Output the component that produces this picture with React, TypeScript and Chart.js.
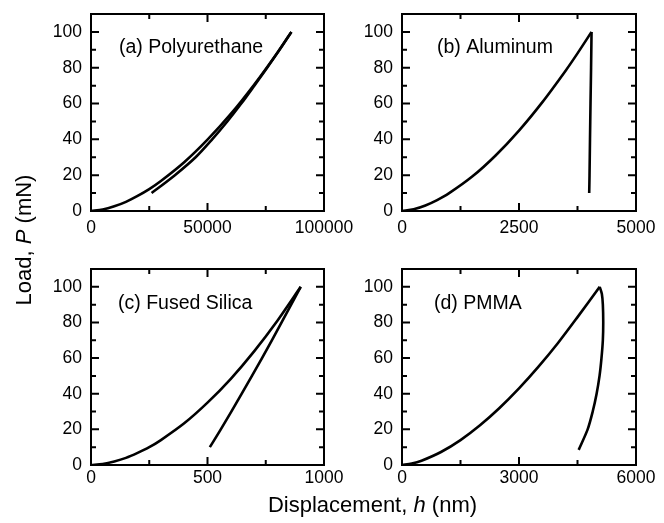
import React, { useEffect, useRef } from "react";
import { Chart, registerables } from "chart.js";
Chart.register(...registerables);

const FONT = "'Liberation Sans', Arial, Helvetica, sans-serif";

// (a) Polyurethane
const polyLoadH = [0, 5000, 10000, 15000, 20000, 25000, 30000, 40000, 50000, 60000, 70000, 80000, 86000];
const polyLoadP = [0, 0.8, 2.6, 5.1, 8.4, 12.2, 16.7, 27.2, 39.8, 54.2, 70.5, 88.4, 100];
const polyUnloadH = [86000, 80900, 75600, 70100, 64500, 58500, 52000, 44900, 36000, 26000];
const polyUnloadP = [100, 90, 80, 70, 60, 50, 40, 30, 20, 10];

// (b) Aluminum
const alLoadH = [0, 250, 500, 750, 1000, 1500, 2000, 2500, 3000, 3500, 3750, 4050];
const alLoadP = [0, 1.0, 3.1, 6.1, 9.8, 19.2, 31.0, 44.9, 60.8, 78.5, 88.0, 100];
const alUnloadH = [4050, 4040, 4028, 4017, 4007, 4000];
const alUnloadP = [100, 80, 60, 40, 20, 10];

// (c) Fused Silica
const fsLoadH = [0, 50, 100, 150, 200, 250, 300, 400, 500, 600, 700, 800, 900];
const fsLoadP = [0, 0.6, 2.0, 4.0, 6.8, 10.0, 14.0, 23.4, 35.0, 48.4, 63.8, 81.0, 100];
const fsUnloadH = [900, 818, 734, 647, 557, 510];
const fsUnloadP = [100, 80, 60, 40, 20, 10];

// (d) PMMA
const pmLoadH = [0, 250, 500, 1000, 1500, 2000, 2500, 3000, 3500, 4000, 4500, 5070];
const pmLoadP = [0, 0.8, 2.4, 7.3, 14.0, 22.3, 32.0, 43.0, 55.2, 68.5, 83.0, 100];
const pmUnloadH = [5070, 5125, 5150, 5160, 5150, 5115, 5065, 4990, 4890, 4760, 4530];
const pmUnloadP = [100, 96, 90, 80, 70, 60, 50, 40, 30, 20, 8.5];

// Axes
const yTicks = [0, 20, 40, 60, 80, 100];
const yMinor = [10, 30, 50, 70, 90];
const yMax = 110;
const polyXTicks = [0, 50000, 100000];
const polyXMinor = [25000, 75000];
const alXTicks = [0, 2500, 5000];
const alXMinor = [1250, 3750];
const fsXTicks = [0, 500, 1000];
const fsXMinor = [250, 750];
const pmXTicks = [0, 3000, 6000];
const pmXMinor = [1500, 4500];

const labels = ["(a) Polyurethane", "(b) Aluminum", "(c) Fused Silica", "(d) PMMA"];

const W = 664;
const H = 523;

const panels = [
  { label: labels[0], lh: polyLoadH, lp: polyLoadP, uh: polyUnloadH, up: polyUnloadP, xTicks: polyXTicks, xMinor: polyXMinor, area: { l: 91, t: 14, r: 324, b: 211 }, xPad: 7, dx: 28, dy: 39 },
  { label: labels[1], lh: alLoadH, lp: alLoadP, uh: alUnloadH, up: alUnloadP, xTicks: alXTicks, xMinor: alXMinor, area: { l: 402, t: 14, r: 636, b: 211 }, xPad: 7, dx: 35, dy: 39 },
  { label: labels[2], lh: fsLoadH, lp: fsLoadP, uh: fsUnloadH, up: fsUnloadP, xTicks: fsXTicks, xMinor: fsXMinor, area: { l: 91, t: 269, r: 324, b: 465 }, xPad: 3, dx: 27, dy: 40 },
  { label: labels[3], lh: pmLoadH, lp: pmLoadP, uh: pmUnloadH, up: pmUnloadP, xTicks: pmXTicks, xMinor: pmXMinor, area: { l: 402, t: 269, r: 636, b: 465 }, xPad: 3, dx: 32, dy: 40 },
];

const frame = {
  id: "frame",
  afterDraw(chart: any, _args: any, opts: any) {
    const { ctx, chartArea: a, scales } = chart;
    const sx = scales.x;
    const sy = scales.y;
    ctx.save();
    ctx.strokeStyle = "#000";
    ctx.lineWidth = 2;
    ctx.strokeRect(a.left, a.top, a.right - a.left, a.bottom - a.top);
    const major = 8;
    const minor = 5;
    const vx = (vals: number[], len: number) => {
      vals.forEach((v) => {
        const px = sx.getPixelForValue(v);
        ctx.beginPath();
        ctx.moveTo(px, a.bottom);
        ctx.lineTo(px, a.bottom - len);
        ctx.moveTo(px, a.top);
        ctx.lineTo(px, a.top + len);
        ctx.stroke();
      });
    };
    const vy = (vals: number[], len: number) => {
      vals.forEach((v) => {
        const py = sy.getPixelForValue(v);
        ctx.beginPath();
        ctx.moveTo(a.left, py);
        ctx.lineTo(a.left + len, py);
        ctx.moveTo(a.right, py);
        ctx.lineTo(a.right - len, py);
        ctx.stroke();
      });
    };
    vx(opts.xTicks, major);
    vx(opts.xMinor, minor);
    vy(yTicks, major);
    vy(yMinor, minor);
    ctx.fillStyle = "#000";
    ctx.font = `19.5px ${FONT}`;
    ctx.textBaseline = "alphabetic";
    ctx.textAlign = "left";
    ctx.fillText(opts.label, a.left + opts.dx, a.top + opts.dy);
    ctx.restore();
  },
};

function toXY(hs: number[], ps: number[]) {
  return hs.map((h, i) => ({ x: h, y: ps[i] }));
}

export default function App() {
  const refs = [useRef<HTMLCanvasElement>(null), useRef<HTMLCanvasElement>(null), useRef<HTMLCanvasElement>(null), useRef<HTMLCanvasElement>(null)];

  useEffect(() => {
    const charts: Chart[] = [];
    panels.forEach((p, i) => {
      const cv = refs[i].current;
      if (!cv) return;
      const lineDs = (data: any[]) => ({
        data,
        showLine: true,
        borderColor: "#000",
        borderWidth: 2.6,
        pointRadius: 0,
        tension: 0.3,
        fill: false,
      });
      const chart = new Chart(cv, {
        type: "scatter",
        data: {
          datasets: [lineDs(toXY(p.lh, p.lp)), lineDs(toXY(p.uh, p.up))],
        },
        plugins: [frame],
        options: {
          animation: false,
          responsive: false,
          events: [],
          layout: {
            padding: {
              left: p.area.l - 60,
              top: p.area.t,
              right: W - p.area.r,
              bottom: H - p.area.b - 40,
            },
          },
          plugins: {
            legend: { display: false },
            tooltip: { enabled: false },
            frame: { label: p.label, dx: p.dx, dy: p.dy, xTicks: p.xTicks, xMinor: p.xMinor },
          } as any,
          scales: {
            x: {
              type: "linear",
              min: 0,
              max: p.xTicks[p.xTicks.length - 1],
              afterBuildTicks: (s: any) => {
                s.ticks = p.xTicks.map((v) => ({ value: v }));
              },
              afterFit: (s: any) => {
                s.height = 40;
                s.paddingLeft = 0;
                s.paddingRight = 0;
              },
              grid: { display: false, drawTicks: false },
              border: { display: false },
              ticks: {
                color: "#000",
                font: { family: FONT, size: 17.5 },
                padding: p.xPad,
                maxRotation: 0,
                autoSkip: false,
                callback: (v: any) => String(v),
              },
            },
            y: {
              type: "linear",
              min: 0,
              max: yMax,
              afterBuildTicks: (s: any) => {
                s.ticks = yTicks.map((v) => ({ value: v }));
              },
              afterFit: (s: any) => {
                s.width = 60;
                s.paddingTop = 0;
                s.paddingBottom = 0;
              },
              grid: { display: false, drawTicks: false },
              border: { display: false },
              ticks: {
                color: "#000",
                font: { family: FONT, size: 17.5 },
                padding: 9,
                autoSkip: false,
                callback: (v: any) => String(v),
              },
            },
          },
        } as any,
      });
      charts.push(chart);
    });
    return () => charts.forEach((c) => c.destroy());
  }, []);

  return (
    <div style={{ position: "absolute", left: 0, top: 0, width: W, height: H, background: "#fff", overflow: "hidden" }}>
      {refs.map((r, i) => (
        <canvas key={i} ref={r} width={W} height={H} style={{ position: "absolute", left: 0, top: 0, width: W, height: H }} />
      ))}
      <div
        style={{
          position: "absolute",
          left: -76,
          top: 229,
          width: 200,
          lineHeight: "22px",
          fontSize: 22,
          fontFamily: FONT,
          color: "#000",
          textAlign: "center",
          transform: "rotate(-90deg)",
          transformOrigin: "50% 50%",
          whiteSpace: "nowrap",
        }}
      >
        Load, <i>P</i> (mN)
      </div>
      <div
        style={{
          position: "absolute",
          left: 222.5,
          top: 494,
          width: 300,
          lineHeight: "22px",
          fontSize: 22,
          fontFamily: FONT,
          color: "#000",
          textAlign: "center",
          whiteSpace: "nowrap",
        }}
      >
        Displacement, <i>h</i> (nm)
      </div>
    </div>
  );
}
